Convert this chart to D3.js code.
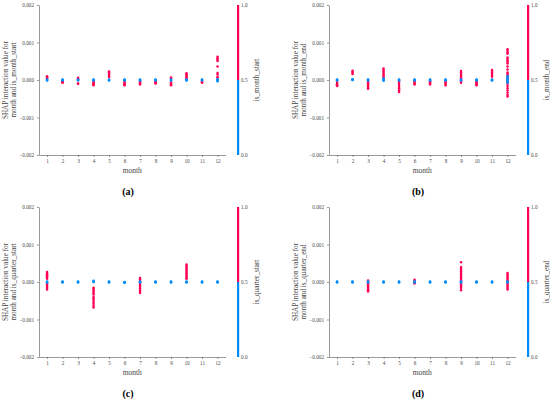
<!DOCTYPE html>
<html>
<head>
<meta charset="utf-8">
<script src="https://cdn.jsdelivr.net/npm/d3@7"></script>
<style>
  body { margin: 0; background: #fff; }
  svg { display: block; font-family: "Liberation Serif", "Times New Roman", serif; }
  svg text { font-family: "Liberation Serif", "Times New Roman", serif; }
</style>
</head>
<body>
<svg id="chart" width="550" height="399"></svg>
<script>
// values are SHAP interaction values in units of 1e-4, one list per month (1..12)
var UNIT = 1e-4;
var months = [1, 2, 3, 4, 5, 6, 7, 8, 9, 10, 11, 12];
var yTicks = [-0.002, -0.001, 0, 0.001, 0.002];
var colorTicks = [0, 0.5, 1];

var redA = [
  [1.0, 0.8, 0.6, 0.4], [-0.4, -0.5, -0.6, -0.7], [0.6, 0.4, 0.2, -0.9, -1.0],
  [-0.2, -0.5, -0.8, -1.0, -1.2, -1.4], [2.3, 2.0, 1.7, 1.4, 1.1, 0.8], [-0.4, -0.7, -1.0, -1.2, -1.4],
  [-0.4, -0.6, -0.9, -1.2], [-0.4, -0.6, -0.8, -0.9], [0.7, 0.4, -0.6, -0.9, -1.2, -1.4],
  [1.8, 1.5, 1.2, 0.9, 0.6, 0.3], [-0.4, -0.6, -0.7], [6.2, 5.8, 5.5, 5.1, 3.6, 1.9, 1.5, 0.8, 0.6]
];
var blueA = [
  [0.1, 0, -0.1], [0.1, 0, -0.1], [0.1, 0, -0.1], [0.1, 0, -0.1], [0.1, 0, -0.1], [0.1, 0, -0.1],
  [0.1, 0, -0.1], [0.1, 0, -0.1], [0.1, 0, -0.1], [0.1, 0, -0.1], [0.1, 0, -0.1], [0.2, 0, -0.3]
];

var redB = [
  [-0.5, -0.8, -1.1, -1.4, -1.6], [2.5, 2.2, 1.9, 1.6], [-0.2, -0.6, -1.0, -1.4, -1.8, -2.1, -2.3],
  [3.1, 2.7, 2.3, 1.9, 1.5, 1.1, 0.7], [-0.4, -0.8, -1.3, -1.8, -2.2, -2.7, -3.2], [-0.4, -0.7, -1.0, -1.2],
  [-0.3, -0.6, -0.9, -1.2], [-0.4, -0.7, -1.0, -1.4], [2.4, 2.0, 1.6, 1.2, 0.8, 0.4, 0.0, -0.4, -0.7],
  [-0.3, -0.6, -0.9, -1.2, -1.4], [2.7, 2.4, 2.0, 1.6, 1.2, 0.9],
  [8.2, 7.8, 7.4, 7.0, 6.0, 5.6, 5.2, 4.8, 4.4, 3.6, 2.8, 2.0, 1.6, 1.2, 0.6, -0.4, -1.0, -1.6, -2.2, -2.8, -3.4, -4.0, -4.4]
];
var blueB = [
  [0.1, 0, -0.1], [0.2, 0.1, 0], [0.1, 0, -0.1], [0.4, 0.2, 0, -0.2], [0.1, 0, -0.1], [0.1, 0, -0.1],
  [0.1, 0, -0.1], [0.1, 0, -0.1], [0.1, 0, -0.1], [0.1, 0, -0.1], [0.1, 0, -0.1], [1.0, 0.6, 0.2, 0, -0.4, -0.7]
];

var redC = [
  [2.7, 2.4, 2.1, 1.8, 1.5, 1.2, 0.9, -0.4, -0.7, -1.0, -1.3, -1.6, -2.0], [], [],
  [-1.5, -1.8, -2.1, -2.5, -2.9, -3.3, -4.0, -4.4, -4.8, -5.3, -5.8, -6.3, -6.8], [], [],
  [1.1, 0.7, 0.3, -0.1, -0.5, -0.9, -1.3, -1.7, -2.1, -2.5, -2.9], [], [],
  [4.7, 4.3, 3.9, 3.5, 3.1, 2.7, 2.3, 1.9, 1.5, 1.1, 0.9], [], []
];
var blueC = [
  [0.1, 0, -0.1], [0.1, 0, -0.1], [0.1, 0, -0.1], [0.3, 0.1, 0], [0.1, 0, -0.1], [0, -0.1, -0.2],
  [0.1, 0, -0.1], [0.1, 0, -0.1], [0.1, 0, -0.1], [0.1, 0, -0.1], [0.1, 0, -0.1], [0.1, 0, -0.1]
];

var redD = [
  [], [], [0.4, 0.1, -0.3, -0.7, -1.1, -1.5, -1.9, -2.2, -2.5], [], [],
  [0.6, 0.3, 0.0, -0.2, -0.4], [], [],
  [5.3, 4.0, 3.6, 3.2, 2.8, 2.4, 2.0, 1.6, 1.2, 0.8, 0.4, 0.0, -0.4, -0.8, -1.2, -1.6, -2.2], [], [],
  [2.4, 2.0, 1.6, 1.2, 0.8, 0.4, 0.0, -0.4, -0.8, -1.2, -1.6, -2.0]
];
var blueD = [
  [0.1, 0, -0.1], [0.1, 0, -0.1], [0.1, 0, -0.1], [0.1, 0, -0.1], [0.1, 0, -0.1], [0.1, 0, -0.1],
  [0.1, 0, -0.1], [0.1, 0, -0.1], [0.1, 0, -0.1], [0.1, 0, -0.1], [0.1, 0, -0.1], [0.1, 0, -0.1]
];

var panels = [
  { red: redA, blue: blueA, feature: "is_month_start", tag: "a", dx: 0, dy: 0 },
  { red: redB, blue: blueB, feature: "is_month_end", tag: "b", dx: 290, dy: 0 },
  { red: redC, blue: blueC, feature: "is_quarter_start", tag: "c", dx: 0, dy: 202 },
  { red: redD, blue: blueD, feature: "is_quarter_end", tag: "d", dx: 290, dy: 202 }
];

var RED = "#ff0052", BLUE = "#008bfb", AXIS = "#444";
var svg = d3.select("#chart");

var x = d3.scaleLinear().domain([0.48, 12.52]).range([39, 225.6]);
var y = d3.scaleLinear().domain([-0.002, 0.002]).range([155, 5]);
var cy = d3.scaleLinear().domain([0, 1]).range([155, 5]);

function flatten(lists) {
  var out = [];
  lists.forEach(function(vals, i) {
    vals.forEach(function(v) { out.push({ month: months[i], value: v * UNIT }); });
  });
  return out;
}

panels.forEach(function(p) {
  var g = svg.append("g").attr("transform", "translate(" + p.dx + "," + p.dy + ")");

  // points: red (feature = 1) then blue (feature = 0)
  g.append("g").selectAll("circle")
    .data(flatten(p.red))
    .enter().append("circle")
    .attr("cx", function(d) { return x(d.month); })
    .attr("cy", function(d) { return y(d.value); })
    .attr("r", 1.25)
    .attr("fill", RED);

  g.append("g").selectAll("circle")
    .data(flatten(p.blue))
    .enter().append("circle")
    .attr("cx", function(d) { return x(d.month); })
    .attr("cy", function(d) { return y(d.value); })
    .attr("r", 1.3)
    .attr("fill", BLUE);

  var xa = g.append("g")
    .attr("transform", "translate(0," + 155 + ")")
    .call(d3.axisBottom(x).tickValues(months).tickSize(2).tickSizeOuter(0).tickPadding(2));
  var ya = g.append("g")
    .attr("transform", "translate(" + 39 + ",0)")
    .call(d3.axisLeft(y).tickValues(yTicks).tickFormat(d3.format(".3f")).tickSize(2).tickSizeOuter(0).tickPadding(3));
  [xa, ya].forEach(function(a) {
    a.attr("font-family", null).attr("font-size", null);
    a.select(".domain").attr("stroke", "#555").attr("stroke-width", 0.6);
    a.selectAll(".tick line").attr("stroke", "#555").attr("stroke-width", 0.6);
    a.selectAll(".tick text").attr("fill", AXIS).attr("font-size", 5.2);
  });

  g.append("text")
    .attr("x", x(6.5)).attr("y", 173)
    .attr("text-anchor", "middle").attr("font-size", 7.5).attr("fill", AXIS)
    .text("month");

  var yl = g.append("text")
    .attr("transform", "translate(0,80) rotate(-90)")
    .attr("text-anchor", "middle").attr("font-size", 7.2).attr("fill", AXIS);
  yl.append("tspan").attr("x", 0).attr("y", 7.5).text("SHAP interaction value for");
  yl.append("tspan").attr("x", 0).attr("y", 15.5).text("month and " + p.feature);

  // colour bar
  var cb = g.append("g");
  cb.append("rect")
    .attr("x", 237).attr("width", 2.2)
    .attr("y", cy(1)).attr("height", cy(0.5) - cy(1))
    .attr("fill", RED);
  cb.append("rect")
    .attr("x", 237).attr("width", 2.2)
    .attr("y", cy(0.5)).attr("height", cy(0) - cy(0.5))
    .attr("fill", BLUE);
  cb.selectAll(".ctick")
    .data(colorTicks)
    .enter().append("text")
    .attr("class", "ctick")
    .attr("x", 241).attr("y", function(d) { return cy(d); })
    .attr("dy", "0.35em").attr("font-size", 5.2).attr("fill", AXIS)
    .text(d3.format(".1f"));
  cb.append("text")
    .attr("transform", "translate(256,80) rotate(-90)")
    .attr("text-anchor", "middle").attr("dy", "0.35em")
    .attr("font-size", 7.2).attr("fill", AXIS)
    .text(p.feature);

  g.append("text")
    .attr("x", 128).attr("y", 195)
    .attr("text-anchor", "middle").attr("font-size", 10).attr("font-weight", "bold").attr("fill", "#000")
    .text("(" + p.tag + ")");
});
</script>
</body>
</html>
